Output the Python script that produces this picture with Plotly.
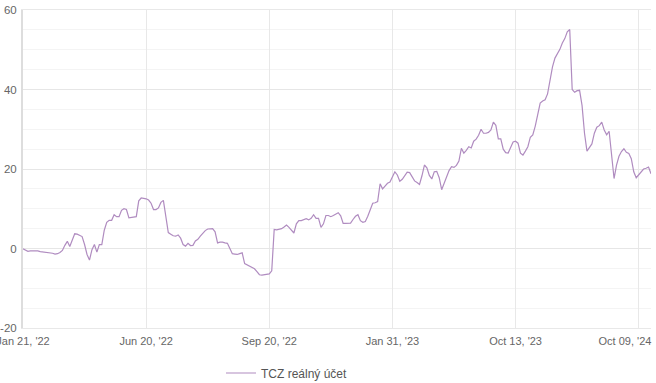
import plotly.graph_objects as go

series_name = "TCZ reálný účet"

values = [
    -0.1, -0.4, -0.7, -0.6, -0.6, -0.5, -0.6, -0.8, -0.85, -0.9,
    -0.95, -1.0, -1.2, -1.4, -1.3, -1.0, -0.5, 0.8, 1.8, 0.5,
    2.0, 3.7, 3.6, 3.3, 3.0, 1.0, -1.5, -2.9, -0.3, 1.0,
    -0.9, 1.0, 1.0, 4.6, 6.6, 7.1, 7.1, 8.5, 8.0, 8.0,
    9.6, 10.0, 9.8, 7.7, 7.8, 8.0, 8.0, 12.0, 12.7, 12.6,
    12.5, 12.2, 11.4, 9.8, 9.8, 10.2, 11.6, 12.1, 8.0, 4.0,
    3.6, 3.2, 3.1, 3.4, 2.6, 1.0, 0.6, 1.3, 0.75, 0.8,
    1.9, 2.3, 3.1, 3.8, 4.5, 4.9, 5.0, 5.0, 4.2, 1.4,
    1.6, 1.6, 1.4, 1.3, 0.0, -1.3, -1.4, -1.5, -1.3, -1.1,
    -3.8, -4.1, -4.3, -4.6, -5.1, -5.8, -6.6, -6.7, -6.6, -6.4,
    -6.4, -5.6, 4.8, 4.7, 4.8, 5.0, 5.4, 5.9, 5.3, 4.6,
    3.9, 6.2, 7.0, 7.0, 7.2, 7.5, 7.2, 7.6, 8.5, 7.6,
    7.6, 5.3, 6.2, 8.3, 8.3, 8.0, 8.3, 8.6, 9.0, 8.2,
    6.3, 6.3, 6.3, 6.4, 7.3, 8.1, 8.5, 7.0, 6.6, 6.8,
    8.1, 10.0, 11.4, 11.5, 11.8, 16.3, 15.0, 15.7, 16.4, 16.7,
    18.0, 19.3, 18.5, 16.9, 17.4, 18.3, 19.2, 19.1, 18.2, 17.0,
    16.6, 16.1, 18.3, 21.0, 20.3, 18.4, 17.5, 19.3, 19.4, 17.8,
    14.8, 16.5, 18.1, 19.6, 20.6, 20.4, 20.9, 22.0, 25.2, 24.0,
    24.7, 25.6, 25.3, 27.0, 27.5, 28.5, 30.0, 29.0, 29.0, 29.2,
    29.8, 31.8, 31.0, 27.6, 27.6, 25.0, 24.1, 24.0, 25.4, 26.8,
    27.0, 26.5, 24.0, 23.5, 24.5, 25.6, 28.0, 28.6, 30.8, 33.7,
    36.6, 37.1, 37.4, 38.9, 42.5, 45.7, 47.9, 49.0, 50.1, 51.7,
    52.8, 54.5, 55.1, 40.0, 39.3, 39.7, 39.8, 36.0, 29.0, 24.5,
    25.4, 26.3, 29.0, 30.5, 30.9, 31.8, 29.8, 28.6, 29.5, 23.0,
    17.6, 21.0, 23.2, 24.4, 25.1, 24.2, 23.9, 22.6, 19.3, 17.8,
    18.6, 19.5, 20.0, 20.2, 20.5, 18.8,
]

tick_positions = [0, 50, 100, 150, 200, 250]
tick_labels = ["Jan 21, '22", "Jun 20, '22", "Sep 20, '22", "Jan 31, '23", "Oct 13, '23",
               "Oct 09, '24" + "\u00a0" * 9]

y_tick_values = [-20, 0, 20, 40, 60]
y_tick_labels = ["-20", "0", "20", "40", "60"]

idx = list(range(len(values)))

fig = go.Figure()
fig.add_trace(go.Scatter(
    x=idx, y=values, mode="lines", name=series_name,
    line=dict(color="#b08cc0", width=1.2),
    showlegend=True,
))

fig.update_layout(
    width=656, height=383,
    margin=dict(l=23, r=5, t=10, b=55),
    paper_bgcolor="white", plot_bgcolor="white",
    font=dict(family="Liberation Sans, Arial, sans-serif", color="#666666", size=12),
    showlegend=True,
    legend=dict(
        orientation="h", x=(221 - 23) / 628, xanchor="left",
        yref="container", y=1 - 373 / 383, yanchor="middle",
        font=dict(size=12, color="#555555"),
        bgcolor="rgba(0,0,0,0)",
    ),
    xaxis=dict(
        range=[0, len(values) - 1], automargin=False,
        tickmode="array", tickvals=tick_positions, ticktext=tick_labels,
        showgrid=True, gridcolor="#e8e8e8", gridwidth=1,
        zeroline=False, showline=True, linecolor="#e8e8e8", mirror=True,
        ticks="", ticklabelstandoff=3, ticklabeloverflow="allow",
        tickfont=dict(size=11, color="#666666"),
    ),
    yaxis=dict(
        range=[-20, 60], automargin=False,
        tickmode="array", tickvals=y_tick_values, ticktext=y_tick_labels,
        showgrid=True, gridcolor="#e6e6e6", gridwidth=1,
        minor=dict(dtick=5, tick0=0, showgrid=True, gridcolor="#f4f4f4", gridwidth=1),
        zeroline=False, showline=True, linecolor="#dddddd", linewidth=2,
        ticks="", ticklabelstandoff=2, ticklabeloverflow="allow",
        tickfont=dict(size=11.5, color="#666666"),
    ),
)

fig.write_html("out.html")
